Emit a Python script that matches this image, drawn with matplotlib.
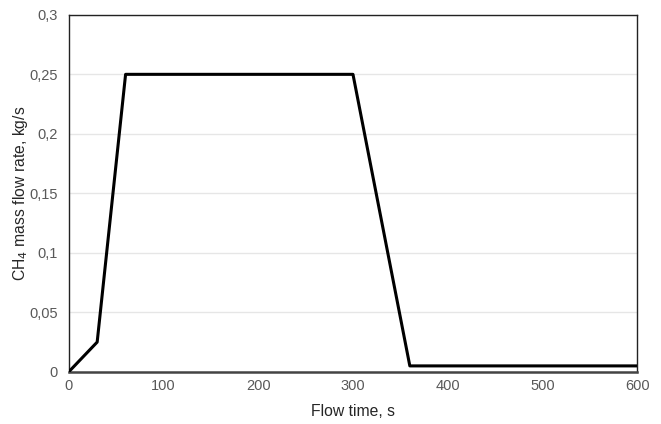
import matplotlib
matplotlib.use("Agg")
import matplotlib.pyplot as plt
from matplotlib.ticker import FuncFormatter

# Flow time (s) and CH4 mass flow rate (kg/s)
flow_time = [0, 30, 60, 300, 360, 600]
mass_flow = [0, 0.025, 0.25, 0.25, 0.005, 0.005]

x_ticks = [0, 100, 200, 300, 400, 500, 600]
y_ticks = [0, 0.05, 0.1, 0.15, 0.2, 0.25, 0.3]

plt.rcParams['font.family'] = ['Liberation Sans', 'DejaVu Sans']

fig = plt.figure(figsize=(6.61, 4.24), dpi=100)
ax = fig.add_axes([0.104, 0.123, 0.86, 0.842])

ax.plot(flow_time, mass_flow, color='black', linewidth=2.2, zorder=3)

ax.set_xlim(0, 600)
ax.set_ylim(0, 0.3)
ax.set_xticks(x_ticks)
ax.set_yticks(y_ticks)

# comma as decimal separator
def comma_fmt(v, pos):
    s = ('%g' % round(v, 3))
    return s.replace('.', ',')

ax.yaxis.set_major_formatter(FuncFormatter(comma_fmt))
ax.xaxis.set_major_formatter(FuncFormatter(comma_fmt))

ax.grid(axis='y', color='#e6e6e6', linewidth=1)
ax.set_axisbelow(True)
ax.tick_params(length=0, labelsize=10.5, colors='#595959')
ax.tick_params(axis='x', pad=5)
ax.tick_params(axis='y', pad=8)

for side in ['top', 'right', 'left']:
    ax.spines[side].set_color('#222222')
    ax.spines[side].set_linewidth(1.0)
ax.spines['bottom'].set_color('#444444')
ax.spines['bottom'].set_linewidth(1.8)

ax.set_xlabel('Flow time, s', fontsize=11.3, color='#262626', labelpad=8)
ax.set_ylabel('CH$_4$ mass flow rate, kg/s', fontsize=11.3, color='#262626', labelpad=-1)

fig.savefig('out.png', dpi=100)
